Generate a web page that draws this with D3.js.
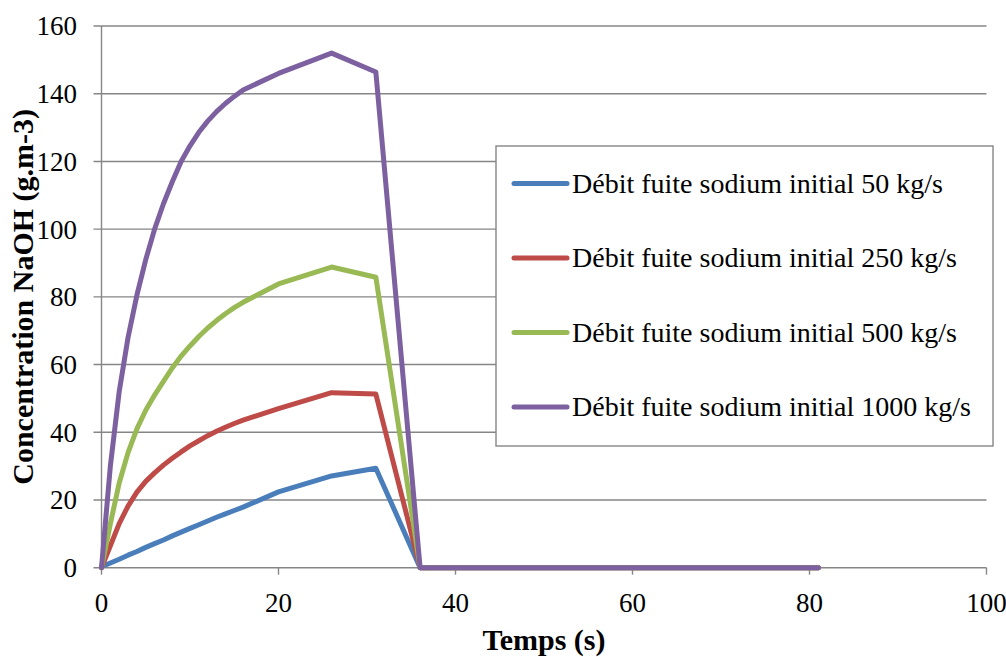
<!DOCTYPE html>
<html><head><meta charset="utf-8">
<script src="https://cdn.jsdelivr.net/npm/d3@7"></script>
<style>body{margin:0;background:#fff}svg{display:block}</style>
</head><body><svg id="c" width="1006" height="657"></svg>
<script>
const times = [0,1,2,3,4,5,6,7,8,9,10,11,12,13,14,15,16,20,26,31,36,41,46,51,56,61,66,71,76,81];
const s50   = [0.3,1.4,2.5,3.7,4.8,6.0,7.1,8.2,9.4,10.5,11.6,12.7,13.8,14.9,15.9,16.9,17.9,22.4,27.1,29.4,0,0,0,0,0,0,0,0,0,0];
const s250  = [0,6.5,13,18.2,22.3,25.5,28,30.3,32.3,34.2,36,37.5,39,40.3,41.5,42.6,43.6,47,51.7,51.3,0,0,0,0,0,0,0,0,0,0];
const s500  = [0,13,25,34,41,46.5,51,55,59,62.5,65.5,68.3,70.8,73,75,76.8,78.4,83.8,88.8,85.8,0,0,0,0,0,0,0,0,0,0];
const s1000 = [0,30,52,68,80.5,91,100,107.5,114,120,124.6,128.6,131.9,134.7,137.1,139.2,141.1,146,152,146.4,0,0,0,0,0,0,0,0,0,0];
const seriesNames = ["Débit fuite sodium initial 50 kg/s","Débit fuite sodium initial 250 kg/s","Débit fuite sodium initial 500 kg/s","Débit fuite sodium initial 1000 kg/s"];
const seriesValues = [s50, s250, s500, s1000];
const colors = ["#4A7EBB","#BE4B48","#98B954","#7D60A0"];
const xTicks = [0,20,40,60,80,100];
const yTicks = [0,20,40,60,80,100,120,140,160];
const xTitle = "Temps (s)";
const yTitle = "Concentration NaOH (g.m-3)";

const FONT = "Liberation Serif, Times New Roman, serif";
const svg = d3.select("#c");
const x = d3.scaleLinear().domain([0,100]).range([101.5,986.5]);
const y = d3.scaleLinear().domain([0,160]).range([567.7,26]);
const grid = "#868686";

// gridlines
svg.append("g").selectAll("line").data(yTicks).join("line")
  .attr("x1", x(0)-8).attr("x2", x(100))
  .attr("y1", d=>y(d)).attr("y2", d=>y(d))
  .attr("stroke", grid).attr("stroke-width",1.4);
// y axis line
svg.append("line").attr("x1",x(0)).attr("x2",x(0)).attr("y1",y(160)).attr("y2",y(0))
  .attr("stroke",grid).attr("stroke-width",1.4);
// x ticks
svg.append("g").selectAll("line").data(xTicks).join("line")
  .attr("x1", d=>x(d)).attr("x2", d=>x(d)).attr("y1", y(0)).attr("y2", y(0)+7)
  .attr("stroke", grid).attr("stroke-width",1.4);

// tick labels
svg.append("g").selectAll("text").data(yTicks).join("text")
  .attr("x", 77).attr("y", d=>y(d)).attr("dy","0.35em")
  .attr("text-anchor","end").attr("font-family",FONT).attr("font-size",27)
  .attr("fill","#000").text(d=>d);
svg.append("g").selectAll("text").data(xTicks).join("text")
  .attr("x", d=>x(d)).attr("y", 603).attr("dy","0.35em")
  .attr("text-anchor","middle").attr("font-family",FONT).attr("font-size",27)
  .attr("fill","#000").text(d=>d);

// titles
svg.append("text").attr("x",(x(0)+x(100))/2).attr("y",650)
  .attr("text-anchor","middle").attr("font-family",FONT).attr("font-weight","bold")
  .attr("font-size",30).text(xTitle);
svg.append("text").attr("transform",`translate(33,${(y(0)+y(160))/2}) rotate(-90)`)
  .attr("text-anchor","middle").attr("font-family",FONT)
  .attr("font-weight","bold").attr("font-size",30).text(yTitle);

// lines
const line = d3.line().x((d,i)=>x(times[i])).y(d=>y(d));
svg.append("g").selectAll("path").data(seriesValues).join("path")
  .attr("d", d=>line(d)).attr("fill","none")
  .attr("stroke",(d,i)=>colors[i]).attr("stroke-width",5)
  .attr("stroke-linejoin","round").attr("stroke-linecap","round");

// legend
const lg = svg.append("g");
lg.append("rect").attr("x",496).attr("y",146).attr("width",497).attr("height",300)
  .attr("fill","#fff").attr("stroke",grid).attr("stroke-width",1.4);
const rowY = [183.5,258,332.5,407];
seriesNames.forEach((n,i)=>{
  lg.append("line").attr("x1",514).attr("x2",567).attr("y1",rowY[i]).attr("y2",rowY[i])
    .attr("stroke",colors[i]).attr("stroke-width",5).attr("stroke-linecap","round");
  lg.append("text").attr("x",572).attr("y",rowY[i]).attr("dy","0.33em")
    .attr("font-family",FONT).attr("font-size",28).attr("fill","#000").text(n);
});
</script></body></html>
